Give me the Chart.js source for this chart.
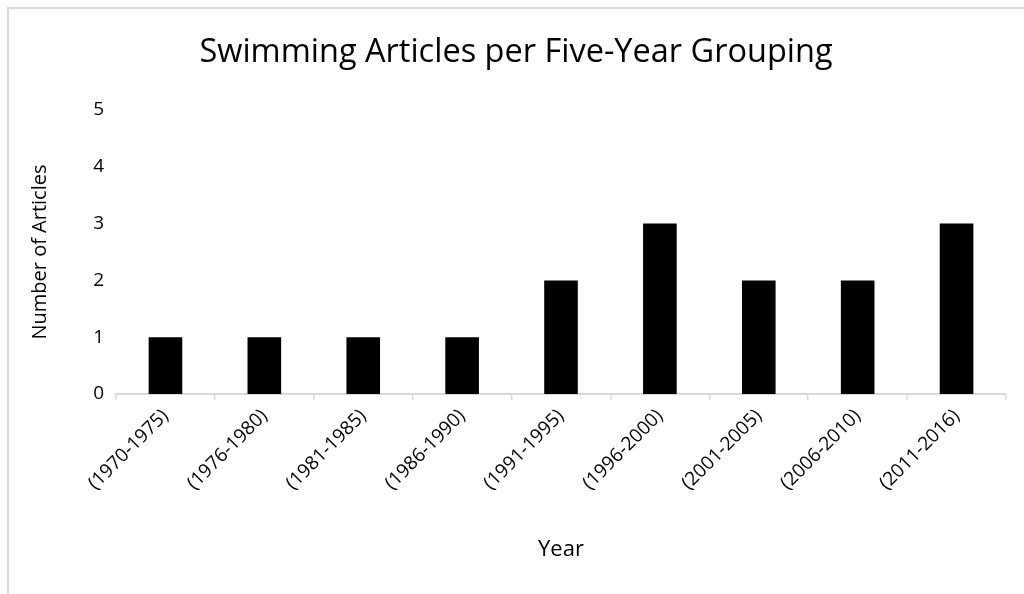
<!DOCTYPE html>
<html lang="en">
<head>
  <meta charset="utf-8">
  <title>Swimming Articles per Five-Year Grouping</title>
  <style>
    html, body { margin: 0; padding: 0; background: #fff; }
    #frame {
      position: absolute; left: 7px; top: 7px; right: 0; bottom: 0;
      border-top: 2px solid #d9d9d9; border-left: 2px solid #d9d9d9;
    }
    #wrap { position: absolute; left: 0; top: 0; width: 1024px; height: 594px; }
  </style>
</head>
<body>
  <div id="frame"></div>
  <div id="wrap"><canvas id="chart"></canvas></div>
  <script src="https://cdn.jsdelivr.net/npm/chart.js"></script>
  <script>
    var groupings = ['(1970-1975)', '(1976-1980)', '(1981-1985)', '(1986-1990)', '(1991-1995)',
                     '(1996-2000)', '(2001-2005)', '(2006-2010)', '(2011-2016)'];
    var articleCounts = [1, 1, 1, 1, 2, 3, 2, 2, 3];
    var yTicks = [0, 1, 2, 3, 4, 5];

    var fontFamily = '"Open Sans", sans-serif';
    var axisGray = '#d9d9d9';

    Chart.defaults.font.family = fontFamily;
    Chart.defaults.color = '#000';

    var ctx = document.getElementById('chart').getContext('2d');
    new Chart(ctx, {
      type: 'bar',
      data: {
        labels: groupings,
        datasets: [{
          label: 'Number of Articles',
          data: articleCounts,
          backgroundColor: '#000',
          borderWidth: 0,
          categoryPercentage: 1,
          barPercentage: 0.34
        }]
      },
      options: {
        responsive: true,
        maintainAspectRatio: false,
        animation: false,
        // left padding keeps the title centred over the frame, y axis fills the rest
        layout: { padding: { left: 26, right: 18, top: 0, bottom: 0 } },
        plugins: {
          legend: { display: false },
          tooltip: { enabled: false },
          title: {
            display: true,
            text: 'Swimming Articles per Five-Year Grouping',
            font: { size: 32.5, weight: 'normal', lineHeight: 1.2 },
            color: '#000',
            padding: { top: 33, bottom: 38 }
          }
        },
        scales: {
          x: {
            afterFit: function (scale) { scale.height = 200; },
            grid: {
              display: true,
              drawOnChartArea: false,
              drawTicks: true,
              tickLength: 6,
              color: axisGray,
              lineWidth: 1.5
            },
            border: { display: true, color: axisGray, width: 2 },
            ticks: {
              font: { size: 19 },
              maxRotation: 45,
              minRotation: 45,
              padding: 5,
              color: '#000'
            },
            title: {
              display: true,
              text: 'Year',
              font: { size: 22 },
              padding: { bottom: 31 },
              color: '#000'
            }
          },
          y: {
            min: 0,
            max: 5,
            afterFit: function (scale) { scale.width = 90; },
            afterBuildTicks: function (scale) {
              scale.ticks = yTicks.map(function (v) { return { value: v }; });
            },
            grid: { display: false, drawTicks: false },
            border: { display: false },
            ticks: {
              font: { size: 19 },
              padding: 12,
              color: '#000'
            },
            title: {
              display: true,
              text: 'Number of Articles',
              font: { size: 20 },
              padding: { top: 2 },
              color: '#000'
            }
          }
        }
      }
    });
  </script>
</body>
</html>
